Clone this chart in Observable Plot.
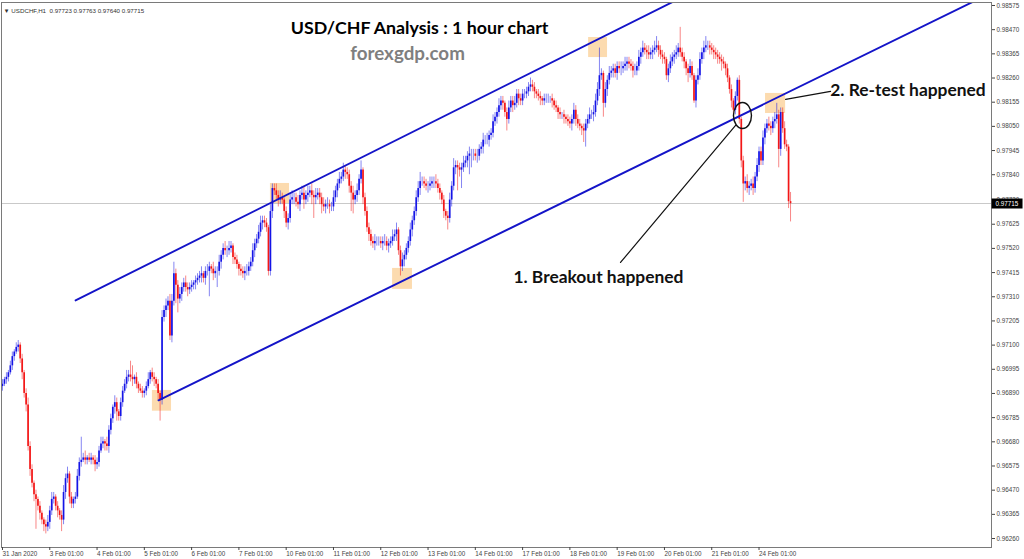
<!DOCTYPE html>
<html><head><meta charset="utf-8">
<script src="https://cdn.jsdelivr.net/npm/d3@7"></script>
<script src="https://cdn.jsdelivr.net/npm/@observablehq/plot@0.6"></script>
<style>html,body{margin:0;padding:0;background:#fff;overflow:hidden}#chart{width:1024px;height:559px}</style>
</head><body><div id="chart"></div>
<script>
// ---------- DATA (USD/CHF, H1) ----------
const BASE = 0.96, PIP = 0.0001;          // closes are given in pips above 0.96000
const barsPerDay = 24;
const dayLabels = ["31 Jan 2020","3 Feb 01:00","4 Feb 01:00","5 Feb 01:00","6 Feb 01:00","7 Feb 01:00",
  "10 Feb 01:00","11 Feb 01:00","12 Feb 01:00","13 Feb 01:00","14 Feb 01:00","17 Feb 01:00",
  "18 Feb 01:00","19 Feb 01:00","20 Feb 01:00","21 Feb 01:00","24 Feb 01:00"];
const firstOpenPips = 92;
const closePips = [
  93,95,96,98,101,105,107,109,110,104,98,89,84,66,56,50,45,43,40,37,34,32,31,33,
  38,43,44,40,38,36,34,46,52,54,44,41,43,44,53,59,60,61,60,61,60,61,60,58,
  59,64,67,68,67,66,73,78,83,85,81,79,85,90,93,96,97,96,95,96,93,91,90,89,
  90,92,95,98,96,95,93,89,86,122,125,127,129,114,129,141,136,130,132,135,137,135,134,135,
  136,137,138,139,140,141,139,142,142,144,143,141,142,142,146,149,152,151,151,152,153,148,147,145,
  143,142,141,142,142,144,146,151,154,156,159,163,164,163,161,142,168,178,177,175,173,174,173,168,
  163,165,173,174,174,172,171,175,176,173,175,176,177,175,174,175,176,174,171,170,171,171,170,170,
  174,177,180,182,183,186,185,184,179,176,173,175,177,182,186,174,168,161,158,155,154,155,155,155,
  154,155,155,153,154,155,157,158,160,151,144,147,149,152,155,160,164,168,174,178,181,181,180,179,
  179,180,181,181,180,178,176,173,168,166,165,173,179,187,188,187,186,187,189,190,192,193,193,193,
  192,192,195,196,199,199,199,201,202,207,209,211,214,216,215,211,208,213,216,214,215,219,217,216,
  219,219,220,222,223,222,220,219,218,217,216,217,217,217,217,216,214,213,211,210,210,209,208,207,
  206,208,212,208,206,205,204,203,206,208,210,210,211,216,221,227,228,215,221,225,228,229,230,228,
  231,230,230,231,232,233,232,231,229,229,231,235,237,239,238,237,236,237,238,239,240,238,236,235,
  234,227,230,233,235,236,237,239,237,235,233,230,228,231,227,216,225,227,234,237,239,240,240,239,
  238,237,236,235,234,233,232,230,226,221,216,212,218,225,208,190,180,181,178,179,180,178,183,188,
  194,190,200,204,206,205,204,207,208,210,195,211,204,197,196,172.3,171.5
];
// wick extensions beyond the body, in pips
const upperWick = [
  2,1,2,1,2,2,1,2,2,1,2,1,2,3,2,2,1,2,1,2,1,1,2,3,
  2,3,2,1,2,1,2,3,2,3,1,2,1,2,3,2,10,2,3,1,2,2,1,2,
  2,2,3,2,1,3,2,2,1,3,2,1,2,2,2,3,2,6,5,1,2,1,2,2,
  1,2,3,1,2,2,1,2,1,3,2,3,2,3,3,5,2,2,3,2,2,3,2,2,
  2,1,2,2,2,3,1,2,3,2,1,3,2,2,3,2,2,3,2,3,2,1,2,2,
  1,2,2,2,3,2,2,3,2,2,3,3,2,2,2,1,3,2,2,3,2,3,2,1,
  2,2,3,3,2,2,3,2,3,3,2,3,2,3,2,3,2,2,2,3,2,3,2,2,
  3,2,2,3,2,3,2,2,2,2,3,2,3,2,4,1,2,2,2,2,2,3,2,2,
  2,2,3,2,2,2,3,2,3,1,2,3,2,2,2,3,2,2,3,3,4,2,2,2,
  2,3,2,2,3,2,2,1,2,1,2,3,2,4,2,2,2,2,3,2,2,3,2,2,
  2,3,2,2,3,2,3,2,2,3,2,2,3,2,2,1,2,3,2,2,3,2,2,2,
  2,2,2,2,3,2,2,1,2,2,1,2,2,2,1,2,1,2,1,2,1,2,1,2,
  2,2,3,2,2,2,1,2,2,2,3,2,3,3,3,12,2,1,3,2,3,2,2,2,
  2,2,3,2,3,2,2,2,2,3,2,3,2,3,2,2,3,2,2,3,4,2,2,2,
  2,1,2,3,2,2,3,2,9,2,2,1,2,3,2,1,2,3,3,2,3,4,2,2,
  2,2,2,2,2,2,2,1,2,1,2,1,2,1,2,1,2,2,3,2,2,3,2,3,
  2,2,3,2,2,3,2,2,3,5,2,2,2,3,2,1,4
];
const lowerWick = [
  2,1,2,2,1,2,2,1,2,2,3,2,3,2,3,2,3,13,2,3,2,3,3,2,
  3,2,2,2,3,2,5,2,3,2,3,2,2,2,1,2,2,1,2,2,1,2,2,3,
  2,2,1,2,3,2,3,2,2,3,4,2,2,2,1,2,2,2,3,2,2,2,1,2,
  2,2,1,2,2,3,2,3,9,2,2,3,2,2,3,2,8,6,2,3,2,2,3,2,
  2,2,3,2,2,3,2,3,2,11,2,3,2,7,2,3,2,2,3,2,2,3,2,2,
  3,2,2,3,2,2,2,2,3,2,2,2,3,2,2,2,2,3,2,2,3,2,2,3,
  2,3,2,2,3,2,2,3,2,4,2,3,2,4,9,3,2,3,4,2,3,2,3,2,
  2,2,3,2,2,2,3,2,3,8,6,2,3,2,2,3,2,2,3,2,2,3,2,2,
  2,3,2,2,3,2,2,2,3,2,4,2,3,2,2,2,3,2,2,2,3,2,2,2,
  3,2,2,3,2,2,3,2,3,2,5,2,3,2,3,10,3,8,2,2,3,8,6,3,
  2,3,2,2,3,2,2,3,2,2,2,3,2,2,3,2,5,2,2,3,2,2,3,2,
  2,2,2,2,2,2,3,2,2,3,2,2,2,2,2,3,2,2,3,2,2,3,2,2,
  2,3,2,3,2,2,3,5,7,2,2,2,3,2,2,3,2,6,2,3,2,2,3,2,
  3,2,3,2,2,3,2,2,3,2,2,2,3,2,2,3,2,2,3,2,2,3,2,3,
  2,2,3,2,2,3,2,2,2,2,3,3,4,2,2,1,3,2,2,2,3,2,2,3,
  2,3,2,3,2,4,2,3,2,2,3,3,2,2,2,3,8,3,2,3,2,3,2,2,
  3,2,2,3,2,2,3,2,3,2,8,3,2,2,2,3,8
];
const lastQuote = {open: 0.97723, high: 0.97763, low: 0.97640, close: 0.97715};
const priceTicks = [0.98575,0.98470,0.98365,0.98260,0.98155,0.98050,0.97945,0.97840,0.97730,0.97625,
  0.97520,0.97415,0.97310,0.97205,0.97100,0.96995,0.96890,0.96785,0.96680,0.96575,0.96470,0.96365,0.96260];

// annotations (bar index, price)
const channelUpper = [{i: 37.1, p: 0.97294}, {i: 345, p: 0.98611}];
const channelLower = [{i: 79.2, p: 0.96860}, {i: 500, p: 0.98622}];
const touchBoxes = [
  {i1: 76.1, i2: 85.8, p1: 0.96813, p2: 0.96903},
  {i1: 136.0, i2: 145.7, p1: 0.97711, p2: 0.97802},
  {i1: 198.0, i2: 208.1, p1: 0.97342, p2: 0.97433},
  {i1: 297.5, i2: 307.1, p1: 0.98349, p2: 0.98436},
  {i1: 387.3, i2: 397.5, p1: 0.98106, p2: 0.98193}
];
const breakoutCircle = [{i: 375.6, p: 0.98097}];
const pointerBreakout = [{i: 313.7, p: 0.97459}, {i: 372.1, p: 0.98054}];
const pointerRetest = [{i: 397.5, p: 0.98167}, {i: 420.3, p: 0.98202}];
const notes = [
  {i: 302.5, p: 0.97394, text: "1. Breakout happened"},
  {i: 459.6, p: 0.98206, text: "2. Re-test happened"}
];
const titleNote = [{i: 211.7, p: 0.98475, text: "USD/CHF Analysis : 1 hour chart"}];
const siteNote = [{i: 205.6, p: 0.98366, text: "forexgdp.com"}];
const infoLine = "\u25BC USDCHF,H1  0.97723 0.97763 0.97640 0.97715";

// ---------- BUILD ----------
const bars = closePips.map((c, i) => {
  const o = i === 0 ? firstOpenPips : closePips[i - 1];
  const hi = Math.max(o, c) + (upperWick[i] ?? 1);
  const lo = Math.min(o, c) - (lowerWick[i] ?? 1);
  return {i, open: BASE + o * PIP, close: BASE + c * PIP, high: BASE + hi * PIP, low: BASE + lo * PIP};
});
const BULL = "#0e0ee6", BEAR = "#f21010";
const col = d => d.close >= d.open ? BULL : BEAR;
const dayIdx = dayLabels.map((_, k) => k * barsPerDay);
const noteFont = "Lato, 'Open Sans', sans-serif";

const chart = Plot.plot({
  width: 1024, height: 559,
  marginLeft: 1, marginRight: 33, marginTop: 2, marginBottom: 12,
  style: {fontFamily: "'Liberation Sans', Arial, sans-serif", background: "#fff", overflow: "visible"},
  x: {domain: [-0.5, 502]},
  y: {domain: [0.96221, 0.98588]},
  color: {type: "identity"},
  marks: [
    Plot.rect(touchBoxes, {x1: "i1", x2: "i2", y1: "p1", y2: "p2", fill: "#fcd7a6", fillOpacity: 0.9}),
    Plot.ruleY([lastQuote.close], {stroke: "#c9c9c9", strokeWidth: 1}),
    Plot.ruleX(bars, {x: "i", y1: "low", y2: "high", stroke: col, strokeWidth: 1, strokeOpacity: 0.5}),
    Plot.ruleX(bars, {x: "i", y1: "open", y2: "close", stroke: col, strokeWidth: 1.7, strokeOpacity: 0.95}),
    Plot.line(channelUpper, {x: "i", y: "p", stroke: "#1414c8", strokeWidth: 1.9, clip: true}),
    Plot.line(channelLower, {x: "i", y: "p", stroke: "#1414c8", strokeWidth: 1.9, clip: true}),
    Plot.dot(breakoutCircle, {x: "i", y: "p", r: 13, stroke: "#111", strokeWidth: 1.4, fill: "none"}),
    Plot.line(pointerBreakout, {x: "i", y: "p", stroke: "#111", strokeWidth: 1.2}),
    Plot.line(pointerRetest, {x: "i", y: "p", stroke: "#111", strokeWidth: 1.2}),
    Plot.text(notes, {x: "i", y: "p", text: "text", fontFamily: noteFont, fontWeight: "bold", fontSize: 17.4, fill: "#111"}),
    Plot.text(titleNote, {x: "i", y: "p", text: "text", fontFamily: noteFont, fontWeight: "bold", fontSize: 17.8, fill: "#000"}),
    Plot.text(siteNote, {x: "i", y: "p", text: "text", fontFamily: noteFont, fontWeight: "bold", fontSize: 18.8, fill: "#7f7f7f"}),
    Plot.text([infoLine], {frameAnchor: "top-left", dx: 2, dy: 6, text: d => d, textAnchor: "start", fontSize: 6.2, fill: "#333"}),
    Plot.frame({stroke: "#7a7a7a", strokeWidth: 1}),
    Plot.axisY(priceTicks, {anchor: "right", tickSize: 3, tickPadding: 2, tickFormat: d => d.toFixed(5), fontSize: 6.3, color: "#444", label: null}),
    Plot.axisX(dayIdx, {anchor: "bottom", tickSize: 3, tickPadding: 1, tickFormat: d => dayLabels[d / barsPerDay], textAnchor: "start", fontSize: 6.3, color: "#444", label: null}),
    Plot.ruleY([lastQuote.close], {x1: 502.3, x2: 518, stroke: "#000", strokeWidth: 10}),
    Plot.text([lastQuote.close], {y: d => d, frameAnchor: "right", dx: 4, text: d => d.toFixed(5), textAnchor: "start", fontSize: 6.3, fill: "#fff"})
  ]
});

// breakout circle drawn as an ellipse (narrower than tall)
chart.querySelectorAll("circle").forEach(c => {
  let cx = c.getAttribute("cx"), cy = c.getAttribute("cy");
  const m = /translate\(([-\d.e]+),\s*([-\d.e]+)\)/.exec(c.getAttribute("transform") || "");
  if (cx == null && m) { cx = m[1]; cy = m[2]; }
  const e = document.createElementNS("http://www.w3.org/2000/svg", "ellipse");
  e.setAttribute("cx", cx || 0); e.setAttribute("cy", cy || 0);
  e.setAttribute("rx", 9); e.setAttribute("ry", 13);
  c.replaceWith(e);
});
document.getElementById("chart").appendChild(chart);
</script>
</body></html>
